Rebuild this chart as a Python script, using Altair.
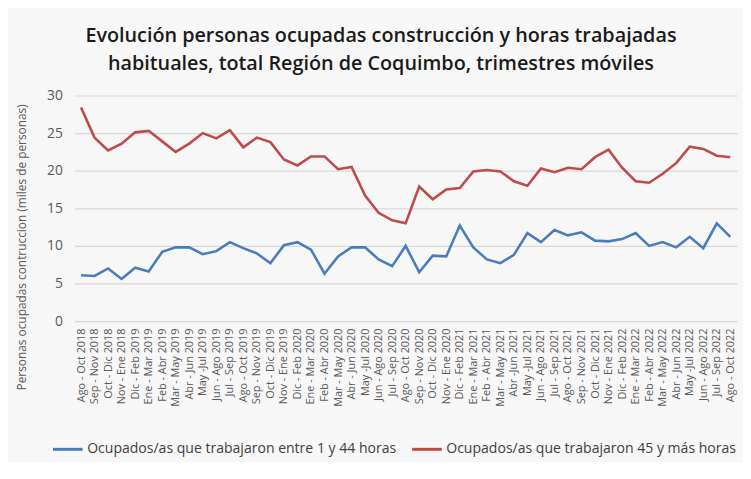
import altair as alt
import pandas as pd

periodos = [
    "Ago - Oct 2018", "Sep - Nov 2018", "Oct - Dic 2018", "Nov - Ene 2018",
    "Dic - Feb 2019", "Ene - Mar 2019", "Feb - Abr 2019", "Mar - May 2019", "Abr - Jun 2019", "May -Jul 2019",
    "Jun - Ago 2019", "Jul - Sep 2019", "Ago - Oct 2019", "Sep - Nov 2019", "Oct - Dic 2019", "Nov - Ene 2019",
    "Dic - Feb 2020", "Ene - Mar 2020", "Feb - Abr 2020", "Mar - May 2020", "Abr - Jun 2020", "May -Jul 2020",
    "Jun - Ago 2020", "Jul - Sep 2020", "Ago - Oct 2020", "Sep - Nov 2020", "Oct - Dic 2020", "Nov - Ene 2020",
    "Dic - Feb 2021", "Ene - Mar 2021", "Feb - Abr 2021", "Mar - May 2021", "Abr -Jun 2021", "May -Jul 2021",
    "Jun - Ago 2021", "Jul - Sep 2021", "Ago - Oct 2021", "Sep - Nov 2021", "Oct - Dic 2021", "Nov - Ene 2021",
    "Dic - Feb 2022", "Ene - Mar 2022", "Feb - Abr 2022", "Mar - May 2022", "Abr - Jun 2022", "May -Jul 2022",
    "Jun - Ago 2022", "Jul - Sep 2022", "Ago - Oct 2022",
]

entre_1_44 = [
    6.1, 6.0, 7.0, 5.6, 7.1, 6.6, 9.2, 9.8, 9.8, 8.9,
    9.3, 10.5, 9.7, 9.0, 7.7, 10.1, 10.5, 9.5, 6.3, 8.6,
    9.8, 9.8, 8.2, 7.3, 10.0, 6.5, 8.7, 8.6, 12.7, 9.8,
    8.2, 7.7, 8.8, 11.7, 10.5, 12.1, 11.4, 11.8, 10.7, 10.6,
    10.9, 11.7, 10.0, 10.5, 9.8, 11.2, 9.7, 13.0, 11.2,
]

mas_45 = [
    28.4, 24.4, 22.7, 23.6, 25.1, 25.3, 23.9, 22.5, 23.6, 25.0,
    24.3, 25.4, 23.1, 24.4, 23.8, 21.5, 20.7, 21.9, 21.9, 20.2,
    20.5, 16.7, 14.4, 13.4, 13.0, 17.9, 16.2, 17.5, 17.7, 19.9,
    20.1, 19.9, 18.6, 18.0, 20.3, 19.8, 20.4, 20.2, 21.8, 22.8,
    20.4, 18.6, 18.4, 19.6, 21.0, 23.2, 22.9, 22.0, 21.8,
]

series = [
    "Ocupados/as que trabajaron entre 1 y 44 horas",
    "Ocupados/as que trabajaron 45 y más horas",
]
colores = ["#4A7EBB", "#BE4B48"]

df = pd.concat([
    pd.DataFrame({"periodo": periodos, "valor": entre_1_44, "serie": series[0]}),
    pd.DataFrame({"periodo": periodos, "valor": mas_45, "serie": series[1]}),
])

FONT = "Open Sans"

chart = alt.Chart(df).mark_line(strokeWidth=2.6).encode(
    x=alt.X("periodo:N", sort=periodos, title=None,
            scale=alt.Scale(type="point", padding=0.5),
            axis=alt.Axis(labelAngle=-90, labelFontSize=11, labelColor="#595959",
                          labelFont=FONT, ticks=False, domain=False, grid=False,
                          labelPadding=7, labelOverlap=False)),
    y=alt.Y("valor:Q", title="Personas ocupadas contruccion (miles de personas)",
            scale=alt.Scale(domain=[0, 30]),
            axis=alt.Axis(values=[0, 5, 10, 15, 20, 25, 30], labelFontSize=14,
                          labelColor="#595959", labelFont=FONT, ticks=False, domain=False,
                          gridColor="#D9D9D9", gridWidth=1.2, labelPadding=12,
                          titleFont=FONT, titleFontSize=12, titleFontWeight="normal",
                          titleColor="#595959", titleAngle=-90, titleX=-53, titleY=153,
                          titleAlign="center", titleBaseline="middle")),
    color=alt.Color("serie:N", sort=series,
                    scale=alt.Scale(domain=series, range=colores),
                    legend=alt.Legend(title=None, orient="none", direction="horizontal",
                                      legendX=-23, legendY=341, symbolType="stroke",
                                      symbolSize=900, symbolStrokeWidth=3,
                                      labelFontSize=14.2, labelFont=FONT, labelColor="#404040",
                                      labelLimit=500, columnPadding=9, labelOffset=3)),
).properties(
    width=670,
    height=228,
    autosize="none",
    padding={"left": 67, "top": 86, "right": 6, "bottom": 140},
    background="#F7F7F7",
    title=alt.TitleParams(
        text=["Evolución personas ocupadas construcción y horas trabajadas",
              "habituales, total Región de Coquimbo, trimestres móviles"],
        font=FONT, fontSize=20, fontWeight=600, color="#1a1a1a",
        anchor="middle", dx=-25, offset=15, lineHeight=28,
    ),
).configure_view(stroke=None)

chart.save("out.html", embed_options={"renderer": "svg", "actions": False})
